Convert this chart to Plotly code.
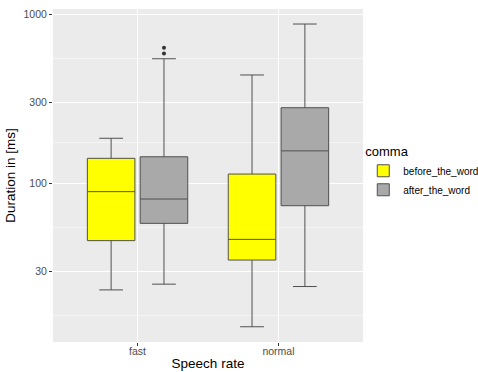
import plotly.graph_objects as go

categories = ["fast", "normal"]
groups = ["before_the_word", "after_the_word"]
colors = {"before_the_word": "#FFFF00", "after_the_word": "#A9A9A9"}

# precomputed box statistics (ms), per group, per category
lower = {"before_the_word": [23.3, 14.1], "after_the_word": [25.2, 24.4]}
q1 = {"before_the_word": [45.6, 35.0], "after_the_word": [57.7, 73.4]}
median = {"before_the_word": [88.9, 46.4], "after_the_word": [80.4, 155]}
q3 = {"before_the_word": [140, 113], "after_the_word": [143, 279]}
upper = {"before_the_word": [184, 436], "after_the_word": [544, 873]}
outliers = {"before_the_word": [[], []], "after_the_word": [[632, 585], []]}

y_ticks = [30, 100, 300, 1000]
y_minor = [16.4, 54.8, 173, 548]

dodge = 0.1875
box_w = 0.3375
offsets = {"before_the_word": -dodge, "after_the_word": dodge}

fig = go.Figure()
for g in groups:
    xs = [i + 1 + offsets[g] for i in range(len(categories))]
    fig.add_trace(go.Box(
        x=xs, q1=q1[g], median=median[g], q3=q3[g],
        lowerfence=lower[g], upperfence=upper[g],
        width=box_w, name=g, fillcolor=colors[g],
        line=dict(color="#505050", width=1), boxpoints=False,
        legendgroup=g, showlegend=True,
    ))
    ox, oy = [], []
    for i, pts in enumerate(outliers[g]):
        for p in pts:
            ox.append(i + 1 + offsets[g])
            oy.append(p)
    if ox:
        fig.add_trace(go.Scatter(
            x=ox, y=oy, mode="markers",
            marker=dict(color="#333333", size=4),
            legendgroup=g, showlegend=False, hoverinfo="y",
        ))

fig.update_layout(
    width=478, height=372,
    margin=dict(l=53, r=115, t=9, b=30, autoexpand=False),
    paper_bgcolor="white", plot_bgcolor="#EBEBEB",
    font=dict(family="Liberation Sans, Arial, sans-serif", color="#000000"),
    legend=dict(
        title=dict(text="comma", font=dict(size=13, color="#000")),
        xref="container", yref="container",
        x=0.76, xanchor="left", y=0.538, yanchor="middle",
        font=dict(size=10, color="#000"), tracegroupgap=0,
        itemwidth=30, bgcolor="rgba(0,0,0,0)",
    ),
    xaxis=dict(
        range=[0.4, 2.6], tickvals=[1, 2], ticktext=categories,
        showgrid=True, gridcolor="white", gridwidth=1.2, zeroline=False,
        ticks="outside", ticklen=3, tickcolor="#333333",
        tickfont=dict(size=10.5, color="#4D4D4D"), ticklabelstandoff=-4,
        title=dict(text="Speech rate", font=dict(size=13.5), standoff=2),
        showline=False,
    ),
    yaxis=dict(
        type="log", range=[1.059, 3.03],
        tickvals=y_ticks, ticktext=[str(t) for t in y_ticks],
        showgrid=True, gridcolor="white", gridwidth=1.2, zeroline=False,
        ticks="outside", ticklen=3, tickcolor="#333333",
        tickfont=dict(size=10.5, color="#4D4D4D"),
        title=dict(text="Duration in [ms]", font=dict(size=13.5), standoff=4),
        minor=dict(tickvals=y_minor, showgrid=True, gridcolor="#F5F5F5", gridwidth=0.6, ticks=""),
        showline=False,
    ),
)

fig.write_html("out.html")
